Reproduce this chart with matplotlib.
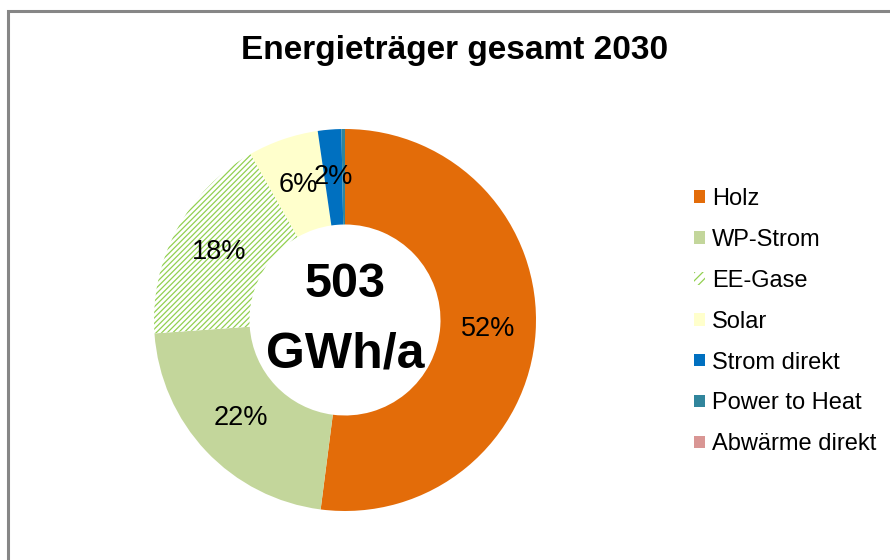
import matplotlib
matplotlib.use("Agg")
import matplotlib.pyplot as plt
from matplotlib.patches import Patch, Rectangle

plt.rcParams['font.family'] = ['Liberation Sans', 'DejaVu Sans']
plt.rcParams['hatch.linewidth'] = 0.9

categories = ["Holz", "WP-Strom", "EE-Gase", "Solar", "Strom direkt", "Power to Heat", "Abwärme direkt"]
values_gwh = [262, 110, 90, 30, 10, 1.5, 0.0]
colors = ["#E36C09", "#C3D69B", "#FFFFFF", "#FFFFCC", "#0070C0", "#31859C", "#D99694"]
hatches = [None, None, "//////", None, None, None, None]
hatch_color = "#92D050"
title = "Energieträger gesamt 2030"
center_lines = ["503", "GWh/a"]

W, H = 890, 560
fig = plt.figure(figsize=(W / 100, H / 100), dpi=100)

# chart frame
fig.patches.append(Rectangle((8 / W, -0.1), 1.2, (H - 11) / H + 0.1, transform=fig.transFigure,
                             fill=False, edgecolor="#868686", linewidth=2.2))

cx, cy, r = 345, 320, 191
ax = fig.add_axes([(cx - r) / W, (H - cy - r) / H, 2 * r / W, 2 * r / H])

def fmt(p):
    return f"{p:.0f}%" if p >= 1.5 else ""

wedges, texts, autotexts = ax.pie(values_gwh, colors=colors, startangle=90, counterclock=False,
                                  radius=1.0, wedgeprops=dict(width=0.5, linewidth=0),
                                  autopct=fmt, pctdistance=0.75,
                                  textprops=dict(fontsize=19.5, color="black"))
for w, h in zip(wedges, hatches):
    if h:
        w.set_hatch(h)
        w.set_edgecolor(hatch_color)
        w.set_linewidth(0)
ax.set_xlim(-1, 1)
ax.set_ylim(-1, 1)
ax.set_aspect("equal")
ax.axis("off")

ax.text(0, 0.12, center_lines[0], ha="center", va="baseline", fontsize=35, fontweight="bold")
ax.text(0, -0.25, center_lines[1], ha="center", va="baseline", fontsize=36, fontweight="bold")

fig.text(455 / W, 1 - 51 / H, title, ha="center", va="center", fontsize=24, fontweight="bold")

handles = []
for c, h in zip(colors, hatches):
    if h:
        handles.append(Patch(facecolor="white", edgecolor=hatch_color, hatch="////", linewidth=0))
    else:
        handles.append(Patch(facecolor=c, edgecolor="none"))
leg = fig.legend(handles, categories, loc="upper left", bbox_to_anchor=(694 / W, 1 - 188 / H),
                 frameon=False, fontsize=17, handlelength=0.45, handleheight=0.45,
                 handletextpad=0.3, labelspacing=0.8, borderaxespad=0, borderpad=0)

fig.savefig("out.png", dpi=100, facecolor="white")
